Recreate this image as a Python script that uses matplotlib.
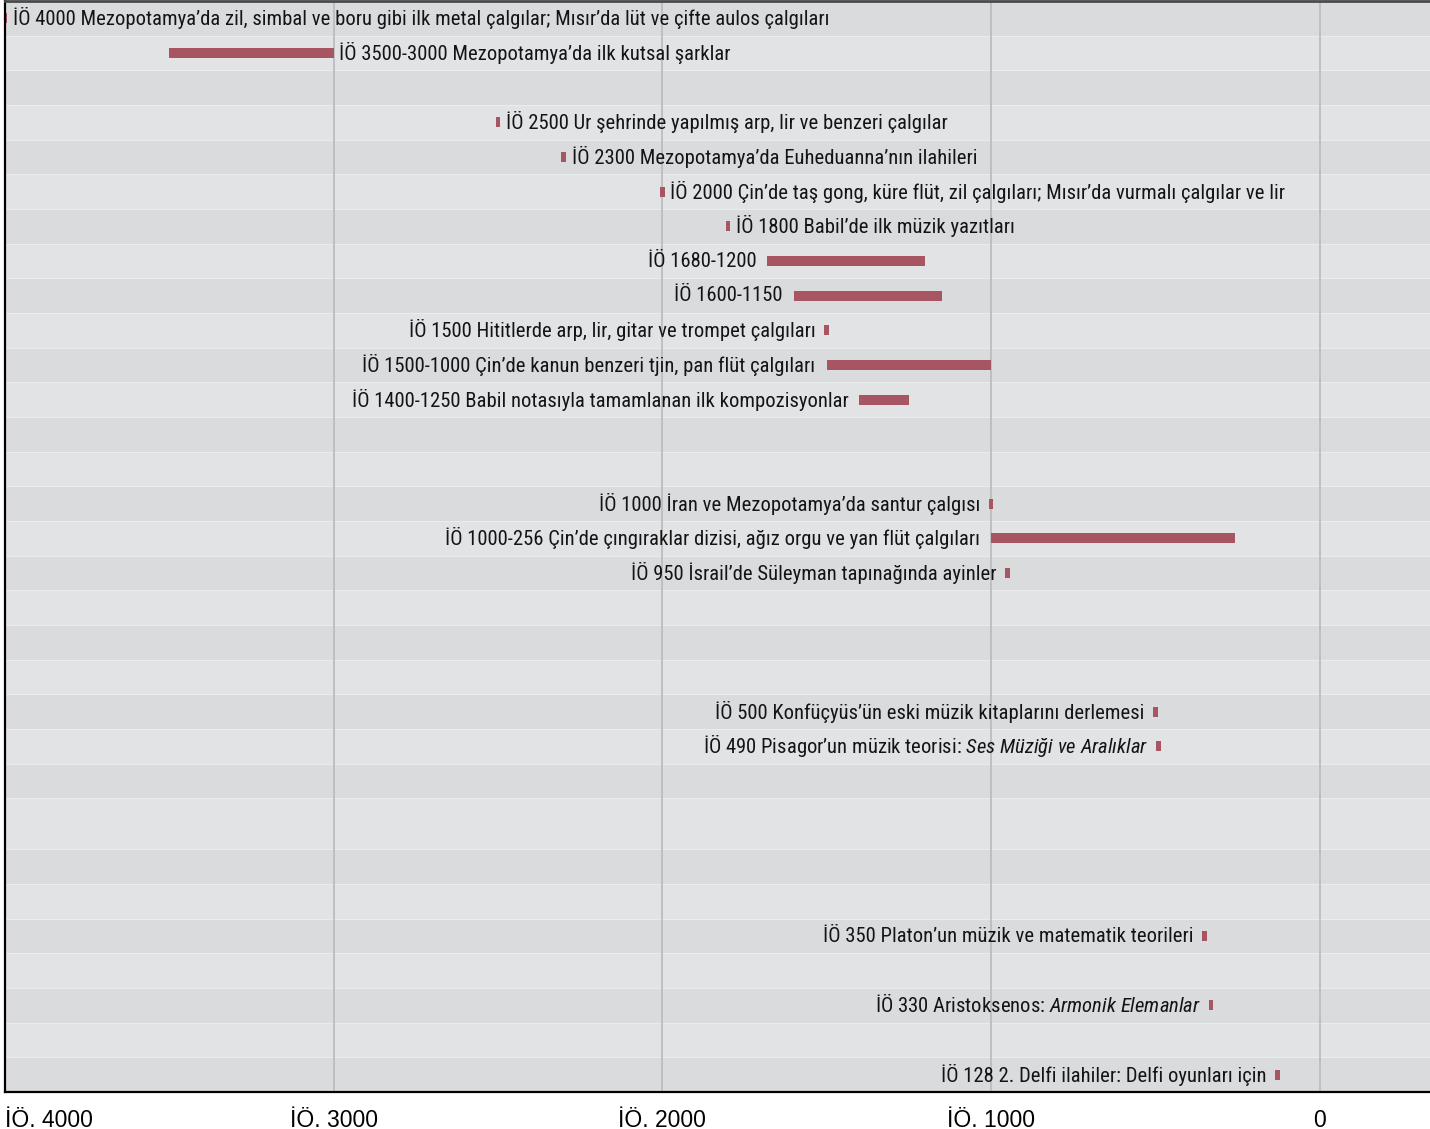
import matplotlib
matplotlib.use('Agg')
import matplotlib.pyplot as plt
from matplotlib import font_manager
import numpy as np

# events (years BC as negative numbers); ends == starts means a single-year event
starts = [-4000, -3500, -2500, -2300, -2000, -1800, -1680, -1600, -1500, -1500,
          -1400, -1000, -1000, -950, -500, -490, -350, -330, -128]
ends = [-4000, -3000, -2500, -2300, -2000, -1800, -1200, -1150, -1500, -1000,
        -1250, -1000, -256, -950, -500, -490, -350, -330, -128]
rows = [0, 1, 3, 4, 5, 6, 7, 8, 9, 10, 11, 14, 15, 16, 20, 21, 26, 28, 30]
sides = ['right'] * 6 + ['left'] * 13
labels = [
    'İÖ 4000 Mezopotamya’da zil, simbal ve boru gibi ilk metal çalgılar; Mısır’da lüt ve çifte aulos çalgıları',
    'İÖ 3500-3000 Mezopotamya’da ilk kutsal şarklar',
    'İÖ 2500 Ur şehrinde yapılmış arp, lir ve benzeri çalgılar',
    'İÖ 2300 Mezopotamya’da Euheduanna’nın ilahileri',
    'İÖ 2000 Çin’de taş gong, küre flüt, zil çalgıları; Mısır’da vurmalı çalgılar ve lir',
    'İÖ 1800 Babil’de ilk müzik yazıtları',
    'İÖ 1680-1200',
    'İÖ 1600-1150',
    'İÖ 1500 Hititlerde arp, lir, gitar ve trompet çalgıları',
    'İÖ 1500-1000 Çin’de kanun benzeri tjin, pan flüt çalgıları',
    'İÖ 1400-1250 Babil notasıyla tamamlanan ilk kompozisyonlar',
    'İÖ 1000 İran ve Mezopotamya’da santur çalgısı',
    'İÖ 1000-256 Çin’de çıngıraklar dizisi, ağız orgu ve yan flüt çalgıları',
    'İÖ 950 İsrail’de Süleyman tapınağında ayinler',
    'İÖ 500 Konfüçyüs’ün eski müzik kitaplarını derlemesi',
    'İÖ 490 Pisagor’un müzik teorisi: $\\mathit{Ses\\ Müziği\\ ve\\ Aralıklar}$',
    'İÖ 350 Platon’un müzik ve matematik teorileri',
    'İÖ 330 Aristoksenos: $\\mathit{Armonik\\ Elemanlar}$',
    'İÖ 128 2. Delfi ilahiler: Delfi oyunları için',
]

# background bands (one band is taller than the others)
band_heights = [1] * 23 + [1.47] + [1] * 7

xticks = [-4000, -3000, -2000, -1000, 0]
xticklabels = ['İÖ. 4000', 'İÖ. 3000', 'İÖ. 2000', 'İÖ. 1000', '0']

names = {f.name for f in font_manager.fontManager.ttflist}
cond = next((n for n in ['Roboto Condensed', 'Archivo Narrow', 'IBM Plex Sans Condensed']
             if n in names), 'DejaVu Sans')
regular = 'Liberation Sans' if 'Liberation Sans' in names else 'DejaVu Sans'

plt.rcParams['font.family'] = [cond, 'DejaVu Sans']
plt.rcParams['mathtext.fontset'] = 'custom'
plt.rcParams['mathtext.rm'] = cond
plt.rcParams['mathtext.it'] = cond + ':italic'

bar_color = '#a85563'
light = '#e2e3e5'
dark = '#dadbdd'
point_w = 14
fs = 14.9

fig = plt.figure(figsize=(14.3, 11.29), dpi=100)
ax = fig.add_axes([5 / 1430, 1 - 1092 / 1129, 1 - 5 / 1430, 1092 / 1129 - 0.001])

edges = np.concatenate([[0], np.cumsum(band_heights)])
for i in range(len(band_heights)):
    ax.axhspan(edges[i], edges[i + 1], color=dark if i % 2 == 0 else light, lw=0, zorder=0)
for e in edges[1:-1]:
    ax.axhline(e, color='#ebecee', lw=0.8, zorder=0.5)

centers = (edges[:-1] + edges[1:]) / 2
for x in xticks[1:]:
    ax.axvline(x, color='#bdbdbf', lw=1.3, zorder=1)

for s, e, r, side, lab in zip(starts, ends, rows, sides, labels):
    y = centers[r]
    if s == e:
        left, width = s - point_w / 2, point_w
    else:
        left, width = s, e - s
    ax.barh(y, width, left=left, height=0.29, color=bar_color, zorder=2)
    if side == 'right':
        ax.annotate(lab, (left + width, y), xytext=(4, 0), textcoords='offset points',
                    ha='left', va='center', fontsize=fs, color='#141414', zorder=3)
    else:
        gap = -6 if s == e else -8
        ax.annotate(lab, (left, y), xytext=(gap, 0), textcoords='offset points',
                    ha='right', va='center', fontsize=fs, color='#141414', zorder=3)

ax.set_xlim(-4000, 336)
ax.set_ylim(edges[-1], 0)
ax.set_yticks([])
ax.set_xticks(xticks)
ax.set_xticklabels(xticklabels, fontsize=16.5, family=regular)
ax.get_xticklabels()[0].set_horizontalalignment('left')
ax.tick_params(axis='x', length=0, pad=12)

ax.spines['right'].set_visible(False)
ax.spines['top'].set_color('#4a4a4a')
ax.spines['top'].set_linewidth(2)
ax.spines['left'].set_linewidth(1.6)
ax.spines['bottom'].set_linewidth(1.6)

plt.savefig('out.png', dpi=100)
